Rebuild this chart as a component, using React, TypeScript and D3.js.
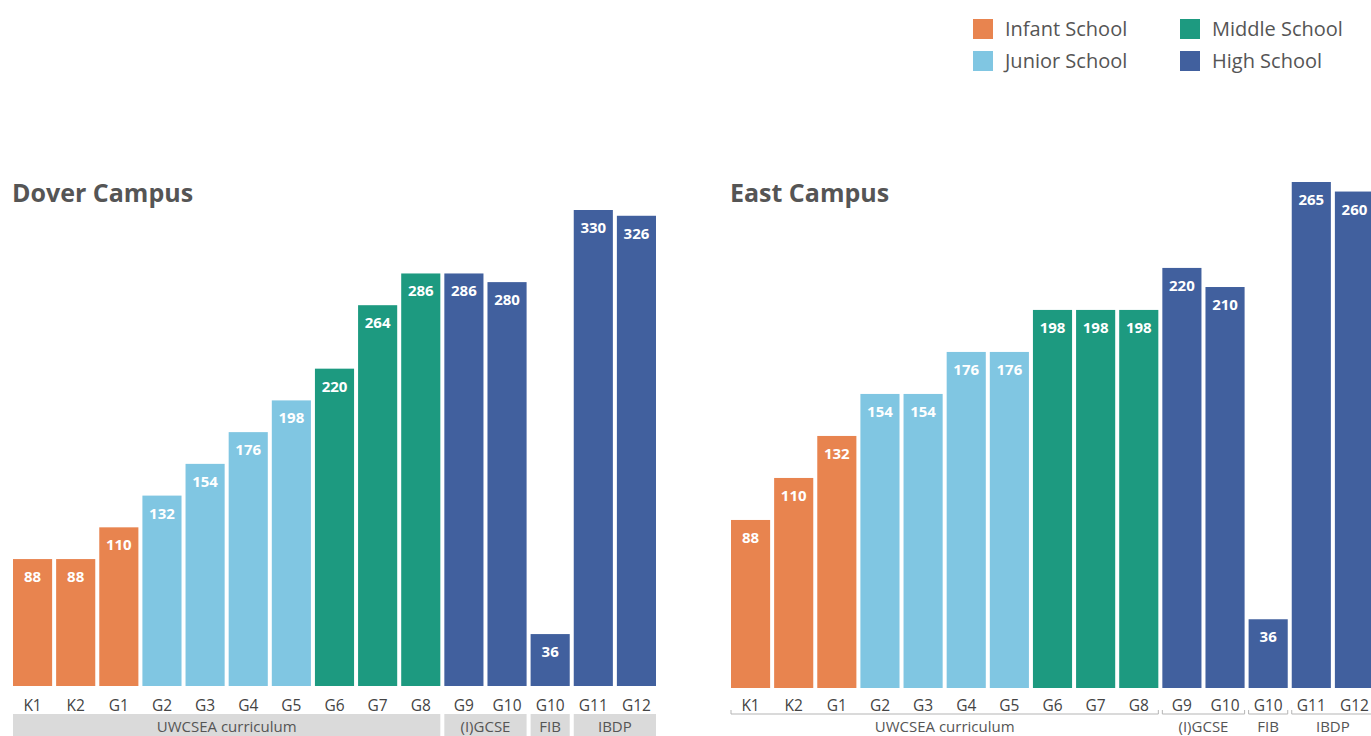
import { scaleBand, scaleLinear, scaleOrdinal } from "d3";

const grades = ["K1", "K2", "G1", "G2", "G3", "G4", "G5", "G6", "G7", "G8", "G9", "G10", "G10", "G11", "G12"];
const schools = ["Infant", "Infant", "Infant", "Junior", "Junior", "Junior", "Junior", "Middle", "Middle", "Middle", "High", "High", "High", "High", "High"];
const doverValues = [88, 88, 110, 132, 154, 176, 198, 220, 264, 286, 286, 280, 36, 330, 326];
const eastValues = [88, 110, 132, 154, 154, 176, 176, 198, 198, 198, 220, 210, 36, 265, 260];

const legendKeys = ["Infant", "Junior", "Middle", "High"];
const legendLabels = ["Infant School", "Junior School", "Middle School", "High School"];

const groups = [
  { label: "UWCSEA curriculum", from: 0, to: 9 },
  { label: "(I)GCSE", from: 10, to: 11 },
  { label: "FIB", from: 12, to: 12 },
  { label: "IBDP", from: 13, to: 14 },
];

const color = scaleOrdinal<string, string>()
  .domain(legendKeys)
  .range(["#e8844f", "#80c6e2", "#1d9a80", "#41609e"]);

const FONT = "'Open Sans', 'Noto Sans', sans-serif";

function Campus({ title, values, x0, x1, baseline, topY, maxV, banded }: any) {
  const x = scaleBand<number>()
    .domain(values.map((_: number, i: number) => i))
    .range([x0, x1])
    .paddingInner(0.093)
    .paddingOuter(0);
  const y = scaleLinear().domain([0, maxV]).range([baseline, topY]);
  const bw = x.bandwidth();

  return (
    <g>
      <text x={x0 - 1} y={202} fontSize={25} fontWeight={700} fill="#555" fontFamily={FONT}>
        {title}
      </text>
      {values.map((v: number, i: number) => (
        <g key={i}>
          <rect x={x(i)} y={y(v)} width={bw} height={baseline - y(v)} fill={color(schools[i])} />
          <text
            x={x(i)! + bw / 2}
            y={y(v) + 23}
            textAnchor="middle"
            fontSize={15}
            fontWeight={700}
            fill="#fff"
            fontFamily={FONT}
          >
            {v}
          </text>
          <text
            x={x(i)! + bw / 2}
            y={711}
            textAnchor="middle"
            fontSize={15.5}
            fill="#444"
            fontFamily={FONT}
          >
            {grades[i]}
          </text>
        </g>
      ))}
      {groups.map((g) => {
        const gx0 = x(g.from)!;
        const gx1 = x(g.to)! + bw;
        return (
          <g key={g.label}>
            {banded ? (
              <rect x={gx0} y={714} width={gx1 - gx0} height={24} fill="#dadada" />
            ) : (
              <path
                d={`M${gx0},${710} L${gx0},${714} L${gx1},${714} L${gx1},${710}`}
                fill="none"
                stroke="#b5b5b5"
                strokeWidth={1}
              />
            )}
            <text
              x={(gx0 + gx1) / 2}
              y={732}
              textAnchor="middle"
              fontSize={15}
              fill="#555"
              fontFamily={FONT}
            >
              {g.label}
            </text>
          </g>
        );
      })}
    </g>
  );
}

export default function App() {
  return (
    <svg
      width={1371}
      height={736}
      style={{ position: "absolute", left: 0, top: 0, background: "#fff" }}
    >
      {legendKeys.map((k, i) => {
        const lx = i < 2 ? 973 : 1180;
        const ly = i % 2 === 0 ? 19 : 51;
        return (
          <g key={k}>
            <rect x={lx} y={ly} width={20} height={20} fill={color(k)} />
            <text x={lx + 32} y={ly + 17} fontSize={20} fill="#555" fontFamily={FONT}>
              {legendLabels[i]}
            </text>
          </g>
        );
      })}
      <Campus title="Dover Campus" values={doverValues} x0={13} x1={656} baseline={686} topY={210} maxV={330} banded />
      <Campus title="East Campus" values={eastValues} x0={731} x1={1374} baseline={688} topY={182} maxV={265} banded={false} />
    </svg>
  );
}
